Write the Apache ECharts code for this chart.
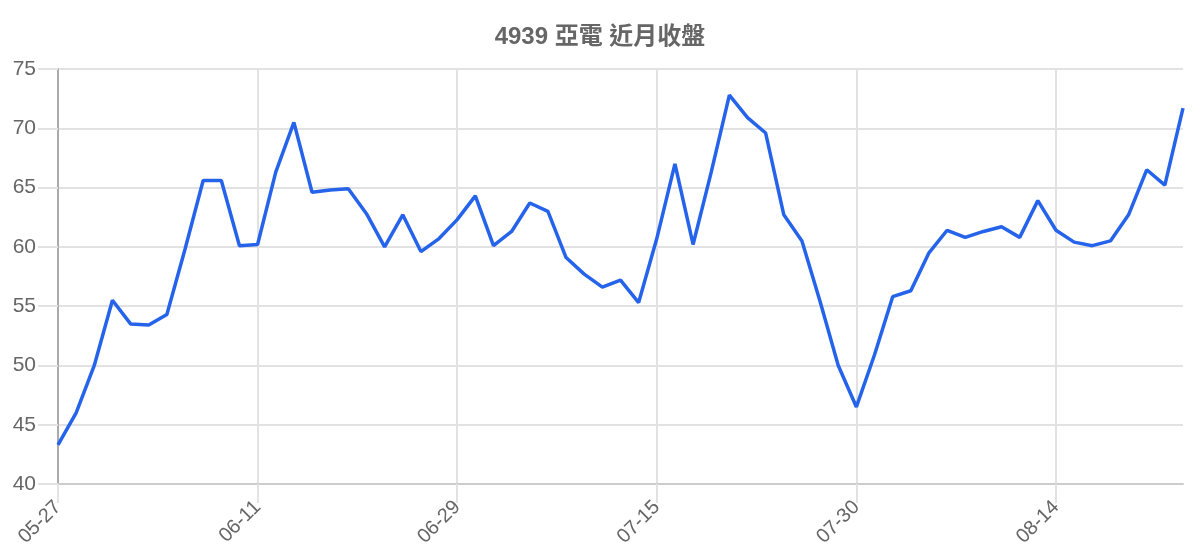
<!DOCTYPE html>
<html>
<head>
<meta charset="utf-8">
<title>4939 亞電 近月收盤</title>
<script src="https://cdn.jsdelivr.net/npm/echarts@6/dist/echarts.min.js"></script>
<style>
    html, body {margin: 0; padding: 0; background: #fff;}
    #chart {width: 1200px; height: 560px;}
</style>
</head>
<body>
<div id="chart"></div>
<script>
var titleText = '4939 亞電 近月收盤';

var dates = [
    '05-27', '05-28', '05-29', '05-30', '05-31', '06-03', '06-04', '06-05', '06-06', '06-07', '06-10',
    '06-11', '06-12', '06-13', '06-14', '06-17', '06-18', '06-19', '06-21', '06-24', '06-25', '06-27',
    '06-29', '07-01', '07-02', '07-03', '07-04', '07-05', '07-08', '07-09', '07-10', '07-11', '07-12',
    '07-15', '07-16', '07-17', '07-18', '07-19', '07-22', '07-23', '07-24', '07-25', '07-26', '07-29',
    '07-30', '07-31', '08-01', '08-02', '08-05', '08-06', '08-07', '08-08', '08-09', '08-12', '08-13',
    '08-14', '08-15', '08-16', '08-19', '08-20', '08-21', '08-22', '08-23'
];

var closes = [
    43.3, 46.0, 50.0, 55.5, 53.5, 53.4, 54.3, 59.8, 65.6, 65.6, 60.1,
    60.2, 66.3, 70.5, 64.6, 64.8, 64.9, 62.8, 60.0, 62.7, 59.6, 60.7,
    62.3, 64.3, 60.1, 61.3, 63.7, 63.0, 59.1, 57.7, 56.6, 57.2, 55.3,
    60.7, 67.0, 60.2, 66.3, 72.8, 70.9, 69.6, 62.7, 60.5, 55.4, 50.0,
    46.5, 50.9, 55.8, 56.3, 59.5, 61.4, 60.8, 61.3, 61.7, 60.8, 63.9,
    61.4, 60.4, 60.1, 60.5, 62.7, 66.5, 65.2, 71.7
];

var yMin = 40, yMax = 75, yStep = 5;

var font = '"Liberation Sans", Arial, "Noto Sans CJK TC", sans-serif';

var myChart = echarts.init(document.getElementById('chart'));

var option = {
    animation: false,
    backgroundColor: '#fff',
    title: {
        text: titleText,
        left: 'center',
        top: 20,
        textStyle: {
            fontFamily: font,
            fontSize: 24,
            fontWeight: 'bold',
            color: '#666'
        }
    },
    grid: {
        left: 58,
        right: 17,
        top: 69,
        bottom: 76
    },
    xAxis: {
        type: 'category',
        boundaryGap: false,
        data: dates,
        axisLine: {show: true, lineStyle: {color: '#cccccc', width: 2}},
        axisTick: {show: true, interval: 10, length: 19, lineStyle: {color: '#e2e2e2', width: 2}},
        splitLine: {show: true, interval: 10, lineStyle: {color: '#e2e2e2', width: 2}},
        axisLabel: {
            interval: 10,
            rotate: 45,
            margin: 20,
            fontFamily: font,
            fontSize: 20,
            color: '#666'
        }
    },
    yAxis: {
        type: 'value',
        min: yMin,
        max: yMax,
        interval: yStep,
        axisLine: {show: true, lineStyle: {color: '#aaaaaa', width: 2}},
        axisTick: {show: true, length: 20, lineStyle: {color: '#e2e2e2', width: 2}},
        splitLine: {show: true, lineStyle: {color: '#e2e2e2', width: 2}},
        axisLabel: {
            margin: 22,
            fontFamily: font,
            fontSize: 21,
            color: '#666'
        }
    },
    series: [{
        type: 'line',
        data: closes,
        showSymbol: false,
        smooth: false,
        lineStyle: {color: '#2563eb', width: 3.5},
        itemStyle: {color: '#2563eb'}
    }]
};

myChart.setOption(option);
</script>
</body>
</html>
